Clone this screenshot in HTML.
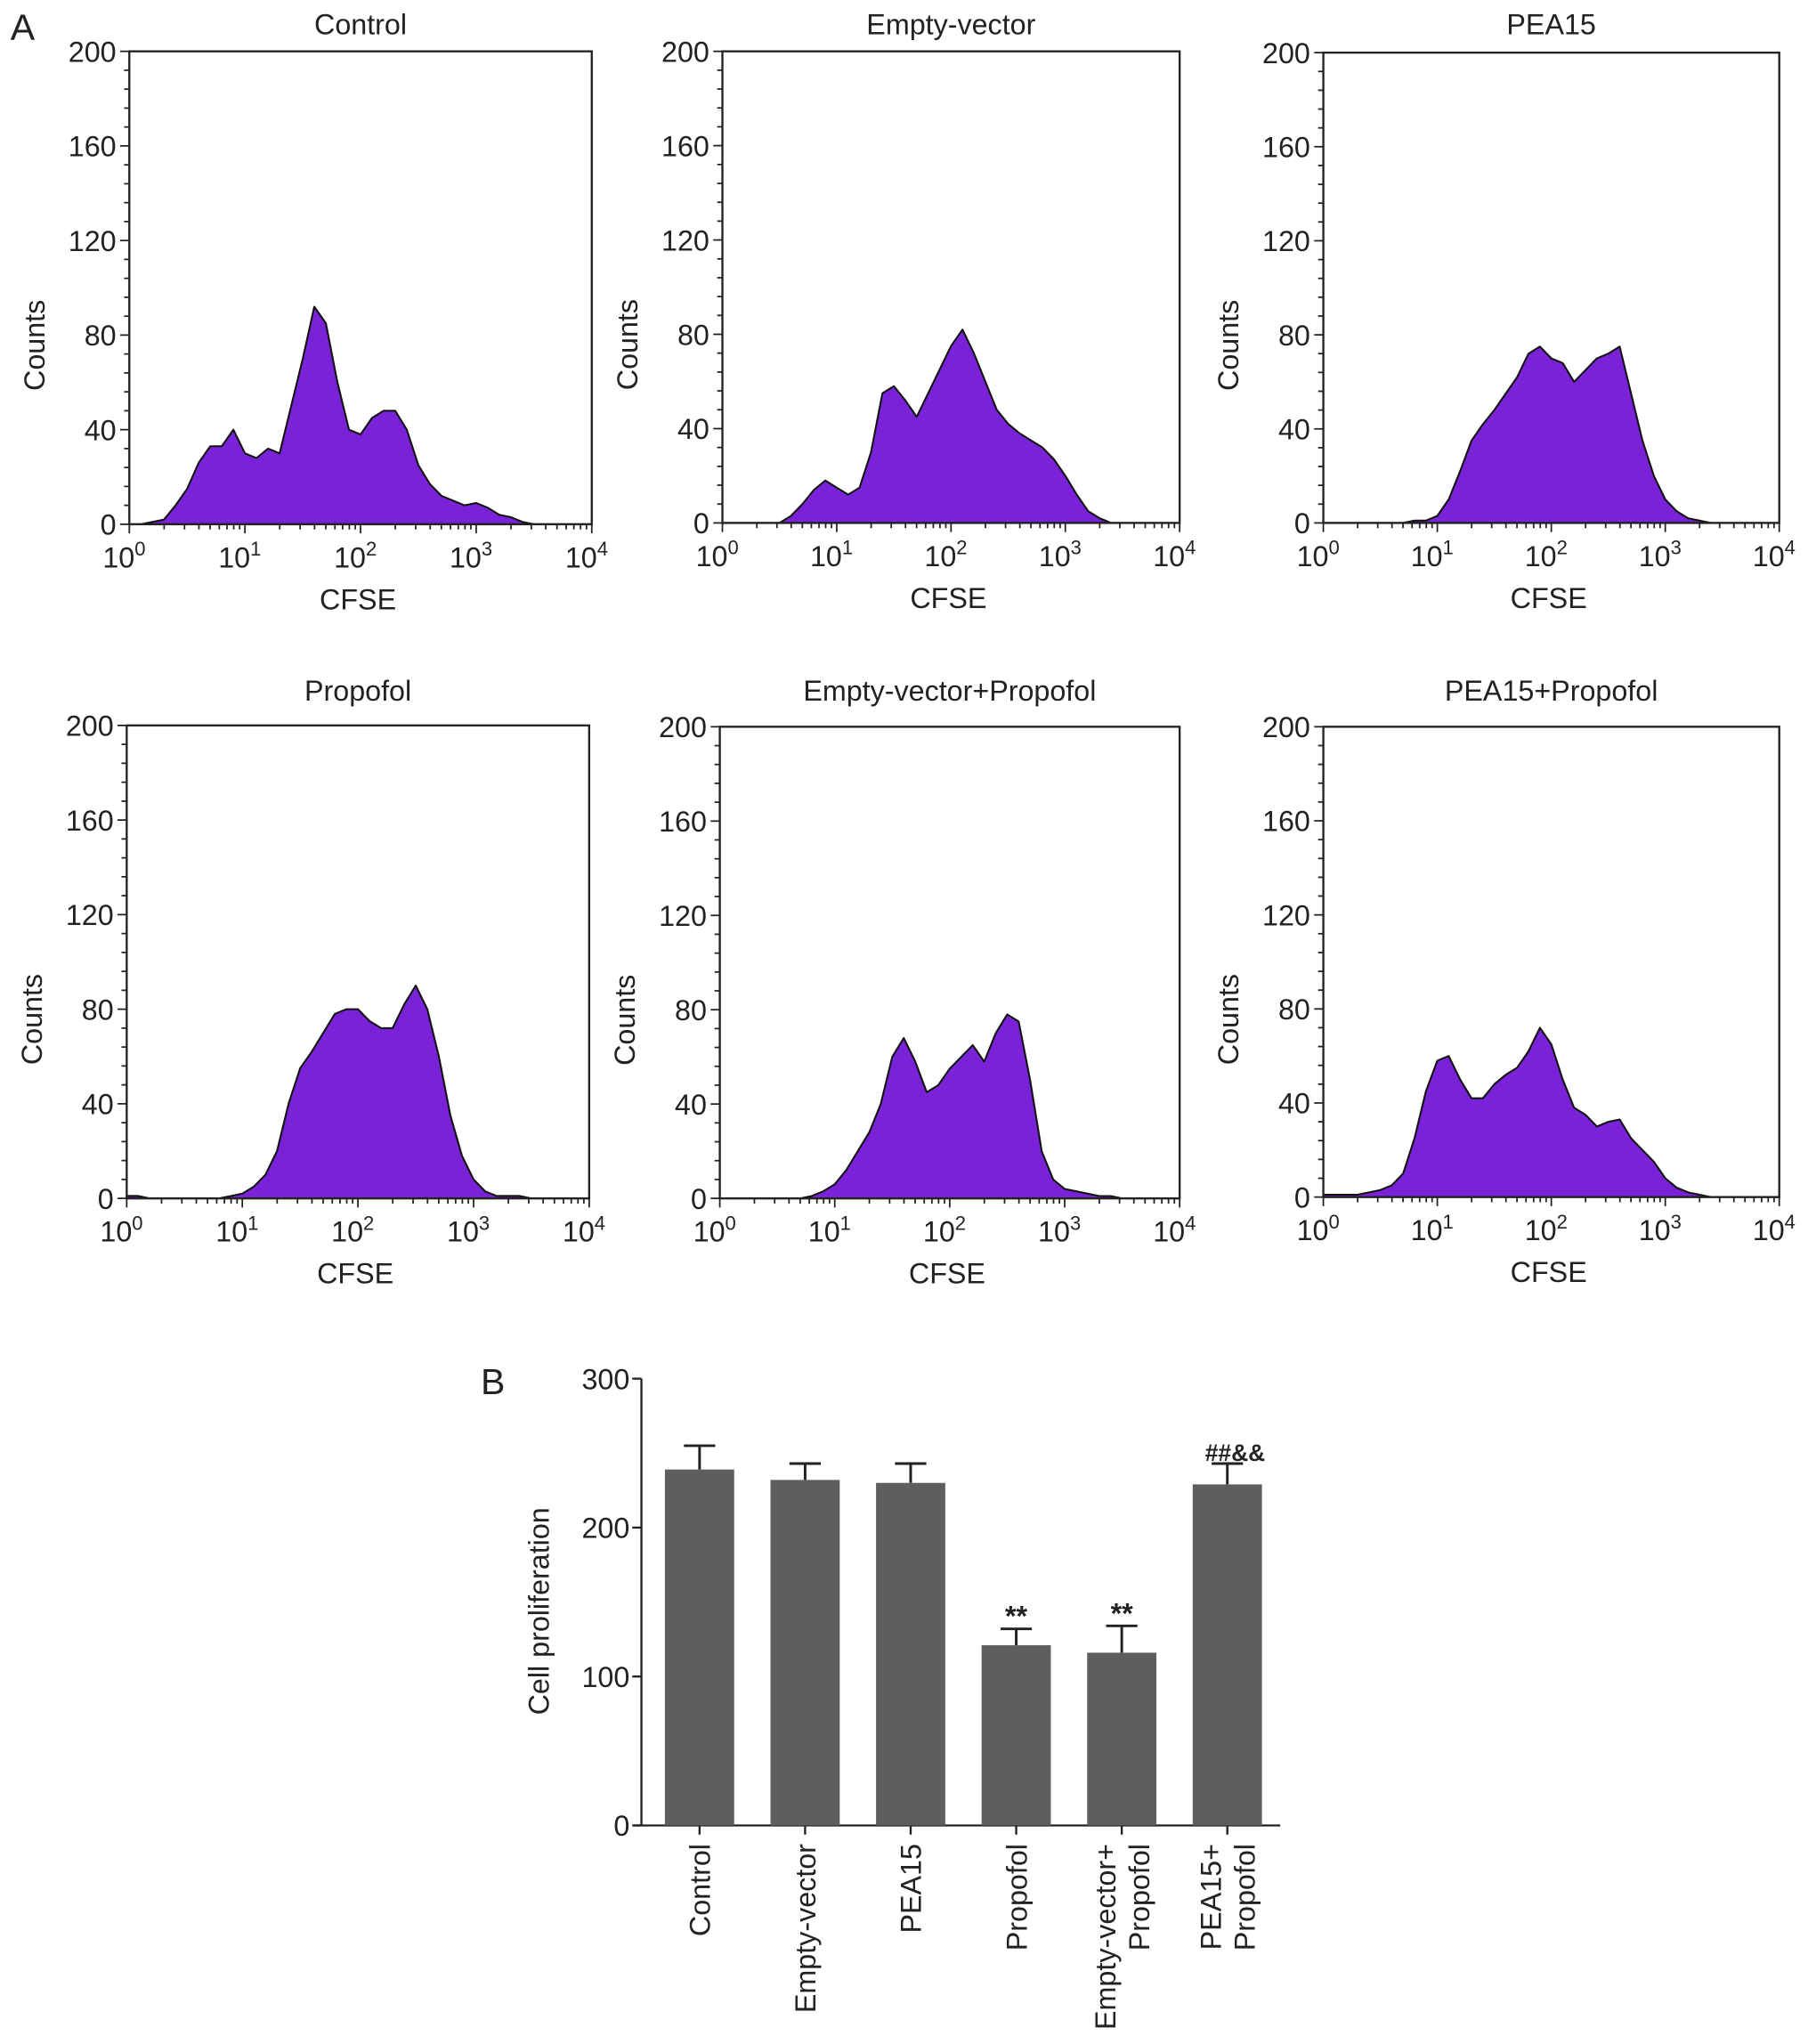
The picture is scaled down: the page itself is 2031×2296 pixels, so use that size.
<!DOCTYPE html>
<html><head><meta charset="utf-8"><style>
html,body{margin:0;padding:0;background:#fff}
svg{display:block}
text{font-family:"Liberation Sans",Arial,sans-serif;fill:#222}
</style></head><body>
<svg id="fig" width="2031" height="2296" viewBox="0 0 1384 1564" xmlns="http://www.w3.org/2000/svg">
<text x="8" y="30" font-size="28">A</text>
<text x="368" y="1067" font-size="28">B</text>
</svg>
<script>
const histTitles = ["Control","Empty-vector","PEA15","Propofol","Empty-vector+Propofol","PEA15+Propofol"];
const histControl = [0,0,1,2,8,15,26,33,33,40,30,28,32,30,50,70,92,85,60,40,38,45,48,48,40,25,17,12,10,8,9,7,4,3,1,0,0,0,0,0,0];
const histEmpty = [0,0,0,0,0,0,3,8,14,18,15,12,15,30,55,58,52,45,55,65,75,82,72,60,48,42,38,35,32,27,20,12,5,2,0,0,0,0,0,0,0];
const histPEA15 = [0,0,0,0,0,0,0,0,1,1,3,10,22,35,42,48,55,62,72,75,70,68,60,65,70,72,75,55,35,20,10,5,2,1,0,0,0,0,0,0,0];
const histPropofol = [1,1,0,0,0,0,0,0,0,1,2,5,10,20,40,55,62,70,78,80,80,75,72,72,82,90,80,60,35,18,8,3,1,1,1,0,0,0,0,0,0];
const histEVP = [0,0,0,0,0,0,0,0,1,3,6,12,20,28,40,60,68,58,45,48,55,60,65,58,70,78,75,50,20,8,4,3,2,1,1,0,0,0,0,0,0];
const histPEAP = [1,1,1,1,2,3,5,10,25,45,58,60,50,42,42,48,52,55,62,72,65,50,38,35,30,32,33,25,20,15,8,4,2,1,0,0,0,0,0,0,0];
const histSeries = [histControl,histEmpty,histPEA15,histPropofol,histEVP,histPEAP];
const yTicks = [0,40,80,120,160,200];
const barCats = ["Control","Empty-vector","PEA15","Propofol","Empty-vector+ Propofol","PEA15+ Propofol"];
const barValues = [239,232,230,121,116,229];
const barErrors = [16,11,13,11,18,14];
const barAnnot = ["","","","**","**","##&&"];
const barTicks = [0,100,200,300];

const NS="http://www.w3.org/2000/svg";
const svg=document.getElementById('fig');
function el(tag,attrs,parent){const e=document.createElementNS(NS,tag);for(const k in attrs)e.setAttribute(k,attrs[k]);(parent||svg).appendChild(e);return e;}
function txt(x,y,s,size,anchor,parent){const t=el('text',{x:x,y:y,'font-size':size,'text-anchor':anchor||'middle'},parent);t.textContent=s;return t;}

const boxes=[[99,453,39,401],[553,903,39,400],[1013,1362,40,400],[97,451,555,917],[551,903,556,917],[1013,1362,556,916]];
const titleY=[18,18,18,528,528,528];
boxes.forEach((b,i)=>{
  const [x0,x1,y0,y1]=b;
  const g=el('g',{});
  
  
  const sx=v=>x0+(v/4)*(x1-x0);
  const sy=v=>y1-(v/200)*(y1-y0);
  const data=histSeries[i];
  const n=data.length;
  let d='M'+sx(0)+','+sy(0);
  for(let k=0;k<n;k++){d+=' L'+sx(k*4/(n-1)).toFixed(2)+','+sy(data[k]).toFixed(2);}
  d+=' L'+sx(4)+','+sy(0)+' Z';
  const p=el('path',{d:d,fill:'#7a22d8',stroke:'#111','stroke-width':1.4,'stroke-linejoin':'round'},g);
  
  
  const r=el('rect',{x:x0,y:y0,width:x1-x0,height:y1-y0,fill:'none',stroke:'#222','stroke-width':1.6},g);
  
  
  for(let v=0;v<=200;v+=8){const major=v%40===0;el('line',{x1:x0-(major?7:4),x2:x0,y1:sy(v),y2:sy(v),stroke:'#222','stroke-width':1.2},g);}
  yTicks.forEach(v=>{const t=txt(x0-10,sy(v)+8,String(v),22,'end',g);});
  for(let dec=0;dec<4;dec++){for(let m=1;m<10;m++){const lv=dec+Math.log10(m);el('line',{x1:sx(lv),x2:sx(lv),y1:y1,y2:y1+(m===1?7:4),stroke:'#222','stroke-width':1.2},g);}}
  el('line',{x1:sx(4),x2:sx(4),y1:y1,y2:y1+7,stroke:'#222','stroke-width':1.2},g);
  for(let dec=0;dec<=4;dec++){
    const t=el('text',{x:sx(dec)-4,y:y1+33,'font-size':22,'text-anchor':'middle'},g);
    
    
    const a=document.createElementNS(NS,'tspan');a.textContent='10';t.appendChild(a);
    const b2=document.createElementNS(NS,'tspan');b2.setAttribute('dy','-9');b2.setAttribute('font-size','15');b2.textContent=String(dec);t.appendChild(b2);
  }
  const tt=txt((x0+x1)/2,titleY[i]+8,histTitles[i],22,'middle',g);
  
  
  const xl=txt((x0+x1)/2-2,y1+65,'CFSE',22,'middle',g);
  
  
  const cx=x0-65, cy=(y0+y1)/2+44;
  const yl=el('text',{x:cx,y:cy,'font-size':22,'text-anchor':'middle',transform:'rotate(-90 '+cx+' '+cy+')'},g);
  yl.textContent='Counts';
  
  
});

// Bar chart
const bg=el('g',{});


const bx0=491,bx1=980,by0=1397,by1=1055;
const bsy=v=>by0-(v/300)*(by0-by1);
const step=80.8, bw=53, firstC=535.5;
const bcx=i=>firstC+i*step;
el('line',{x1:bx0,x2:bx0,y1:by1,y2:by0,stroke:'#222','stroke-width':1.6},bg);
el('line',{x1:bx0-6,x2:bx1,y1:by0,y2:by0,stroke:'#222','stroke-width':1.6},bg);
barTicks.forEach(v=>{el('line',{x1:bx0-7,x2:bx0,y1:bsy(v),y2:bsy(v),stroke:'#222','stroke-width':1.6},bg);
  const t=txt(bx0-9,bsy(v)+8,String(v),22,'end',bg);});
barValues.forEach((v,i)=>{
  const c=bcx(i);
  const r=el('rect',{x:c-bw/2,y:bsy(v),width:bw,height:by0-bsy(v),fill:'#5e5e5e'},bg);
  
  
  const top=bsy(v+barErrors[i]);
  el('line',{x1:c,x2:c,y1:bsy(v),y2:top,stroke:'#222','stroke-width':2},bg);
  el('line',{x1:c-12,x2:c+12,y1:top,y2:top,stroke:'#222','stroke-width':2},bg);
  el('line',{x1:c,x2:c,y1:by0,y2:by0+7,stroke:'#222','stroke-width':1.6},bg);
  if(barAnnot[i]){const a=txt(c+(barAnnot[i].length>2?6:0),top-2,barAnnot[i],barAnnot[i].length>2?18:22,'middle',bg);a.setAttribute('font-weight','bold');}
  const parts=barCats[i].split(' ');
  parts.forEach((p,j)=>{
    const xx=c+8-(parts.length-1-j)*26+(parts.length>1?13:0), yy=by0+14;
    const t=el('text',{x:xx,y:yy,'font-size':22,'text-anchor':'end',transform:'rotate(-90 '+xx+' '+yy+')'},bg);
    t.textContent=p;
    
    
  });
});
const ylx=420, yly=1233;
const byl=el('text',{x:ylx,y:yly,'font-size':22,'text-anchor':'middle',transform:'rotate(-90 '+ylx+' '+yly+')'},bg);
byl.textContent='Cell proliferation';


</script>
</body></html>
